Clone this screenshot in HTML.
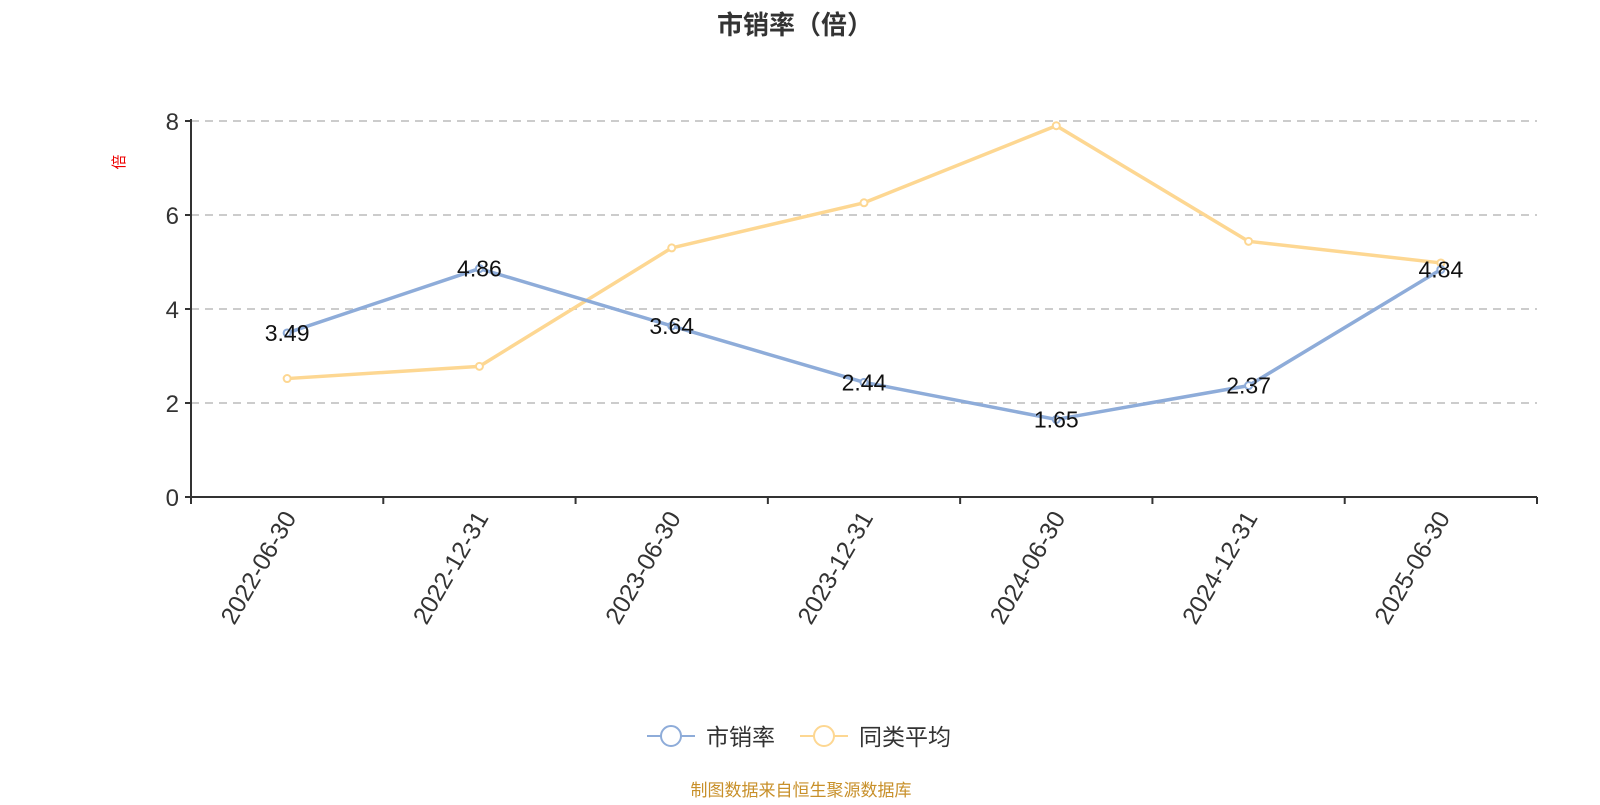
<!DOCTYPE html>
<html><head><meta charset="utf-8"><style>
html,body{margin:0;padding:0;background:#fff;}
svg text{font-family:"Liberation Sans","Noto Sans CJK SC",sans-serif;}
</style></head><body>
<svg width="1600" height="800" xmlns="http://www.w3.org/2000/svg" id="chart">
<text x="795" y="34" text-anchor="middle" font-size="26" font-weight="bold" fill="#333">市销率（倍）</text>
<text x="0" y="0" font-size="15" fill="#e00" transform="translate(124,162) rotate(-90)" text-anchor="middle">倍</text>
<g id="grid"></g><g id="axes"></g><g id="series"></g>
<g>
<g><line x1="647" y1="736" x2="695" y2="736" stroke="#8eacd9" stroke-width="2"/><circle cx="671" cy="736" r="10" fill="#fff" stroke="#8eacd9" stroke-width="2"/><text x="706" y="745" font-size="23" fill="#333">市销率</text></g>
<g><line x1="800" y1="736" x2="848" y2="736" stroke="#fdd792" stroke-width="2"/><circle cx="824" cy="736" r="10" fill="#fff" stroke="#fdd792" stroke-width="2"/><text x="859" y="745" font-size="23" fill="#333">同类平均</text></g>
</g>
<text x="801" y="796" text-anchor="middle" font-size="17" fill="#c8902a">制图数据来自恒生聚源数据库</text>
</svg>
<script>
const categories=["2022-06-30","2022-12-31","2023-06-30","2023-12-31","2024-06-30","2024-12-31","2025-06-30"];
const psrValues=[3.49,4.86,3.64,2.44,1.65,2.37,4.84];
const avgValues=[2.52,2.78,5.30,6.26,7.90,5.44,4.98];
const yTicks=[0,2,4,6,8];
const NS="http://www.w3.org/2000/svg";
const L=191,R=1537,T=121,B=497,yMax=8;
const bw=(R-L)/categories.length;
const xs=i=>L+bw*(i+0.5);
const ys=v=>B-(v/yMax)*(B-T);
function mk(tag,attrs,parent,txt){const e=document.createElementNS(NS,tag);for(const k in attrs)e.setAttribute(k,attrs[k]);if(txt!==undefined)e.textContent=txt;parent.appendChild(e);return e;}
const grid=document.getElementById('grid'),axes=document.getElementById('axes'),ser=document.getElementById('series');
yTicks.forEach(t=>{
  if(t>0){const g=mk('line',{x1:L,x2:R,y1:ys(t),y2:ys(t),stroke:'#ccc','stroke-width':2,'stroke-dasharray':'8,6'},grid);
  
  }
  const tk=mk('line',{x1:L-6,x2:L,y1:ys(t),y2:ys(t),stroke:'#333','stroke-width':2},axes);
  
  
  const lb=mk('text',{x:L-12,y:ys(t)+9,'text-anchor':'end','font-size':24,fill:'#333'},axes,String(t));
  
  
});
const ya=mk('line',{x1:L,x2:L,y1:T-2,y2:B,stroke:'#333','stroke-width':2},axes);


const xa=mk('line',{x1:L,x2:R,y1:B,y2:B,stroke:'#333','stroke-width':2},axes);


for(let i=0;i<=categories.length;i++){
  const tk=mk('line',{x1:L+bw*i,x2:L+bw*i,y1:B,y2:B+7,stroke:'#333','stroke-width':2},axes);
  
  
}
categories.forEach((c,i)=>{
  const x=xs(i)+2,y=B+16;
  const t=mk('text',{x:x,y:y,'text-anchor':'end','font-size':24.5,fill:'#333',transform:`rotate(-60 ${x} ${y}) translate(0,9)`},axes,c);
  
  
});
function series(vals,color,name,labels){
  const p=mk('polyline',{points:vals.map((v,i)=>xs(i)+','+ys(v)).join(' '),fill:'none',stroke:color,'stroke-width':3.5,'stroke-linejoin':'round'},ser);
  
  
  vals.forEach((v,i)=>{
    const c=mk('circle',{cx:xs(i),cy:ys(v),r:3.5,fill:'#fff',stroke:color,'stroke-width':2},ser);
    
    
    if(labels){
      const t=mk('text',{x:xs(i),y:ys(v)+8,'text-anchor':'middle','font-size':23,fill:'#111'},ser,v.toFixed(2));
      
      
    }
  });
}
series(avgValues,'#fdd792','avg',false);
series(psrValues,'#8eacd9','psr',true);
</script>
</body></html>
